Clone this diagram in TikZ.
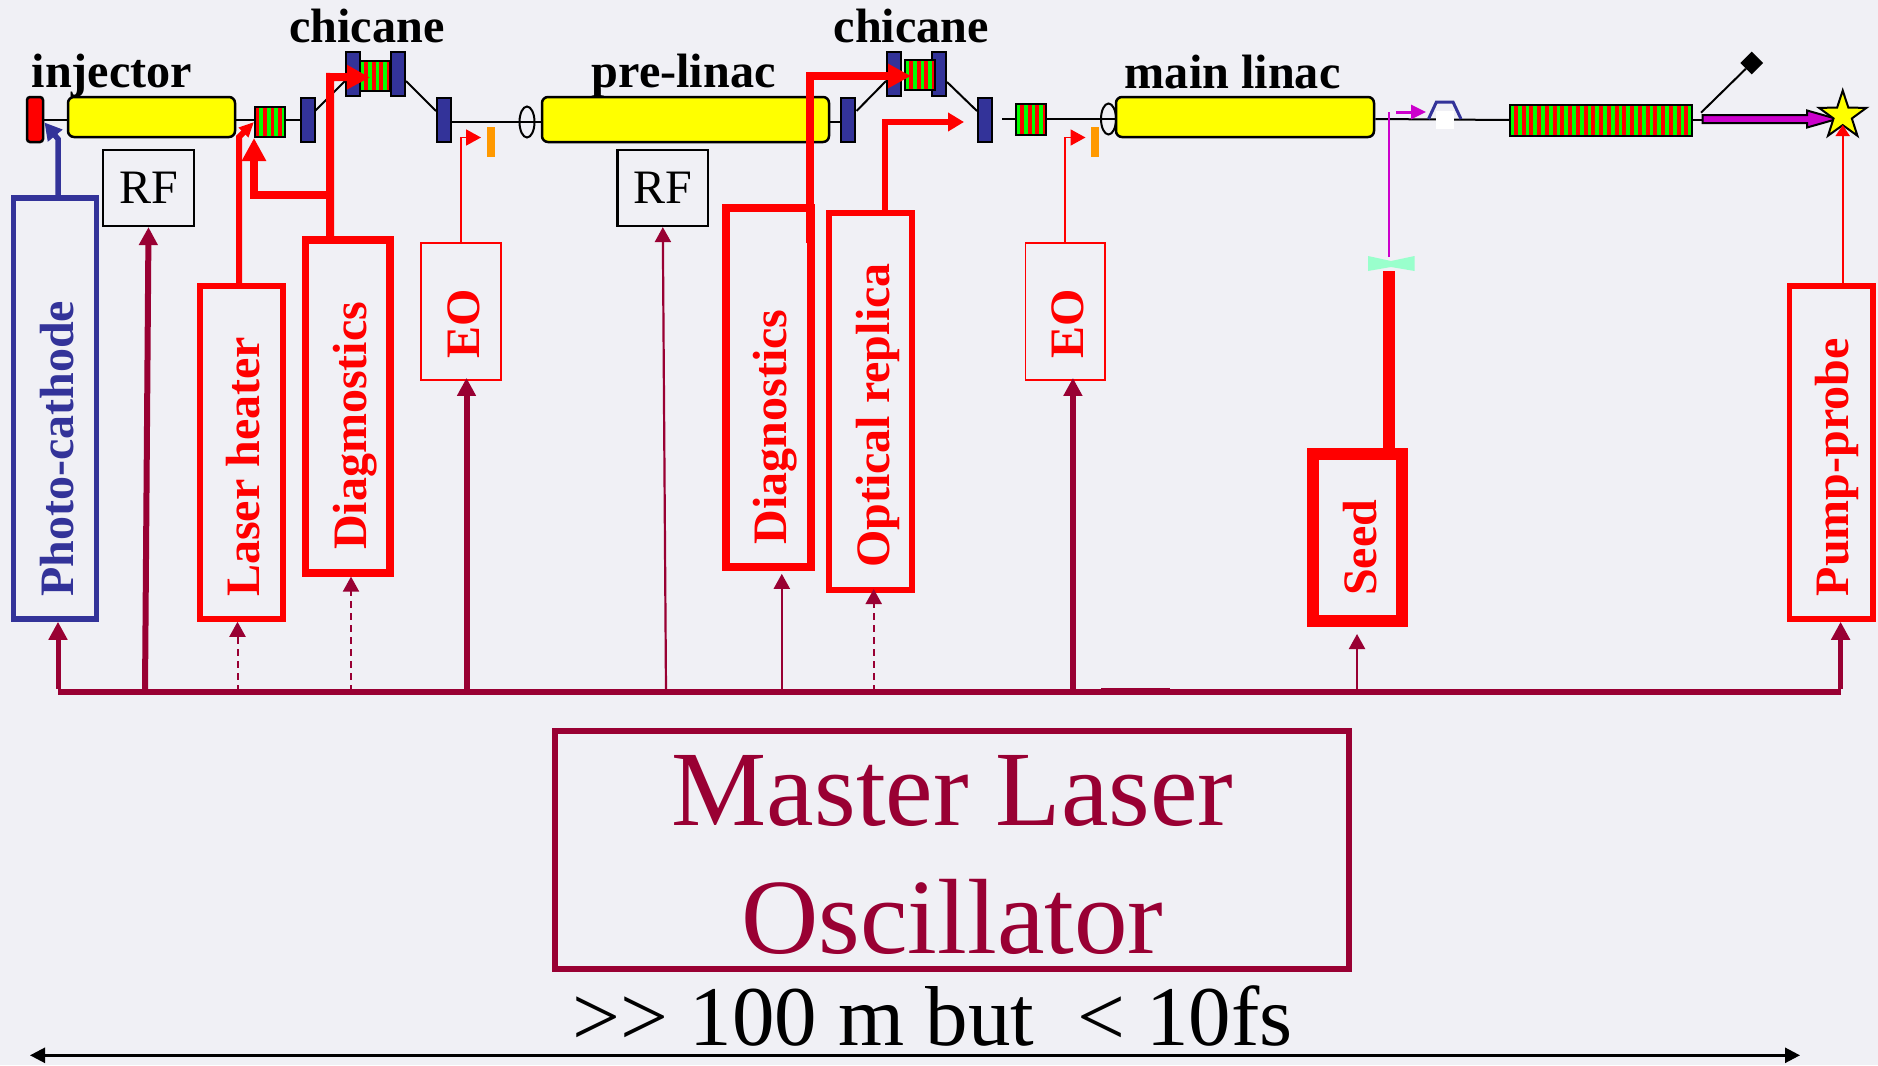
\documentclass[tikz,border=0pt]{standalone}
\usepackage{fontspec}
\setmainfont{Liberation Serif}
\usetikzlibrary{arrows.meta,shapes.geometric}

\definecolor{slidebg}{HTML}{F0F0F5}
\definecolor{navyblue}{HTML}{333399}
\definecolor{maroonline}{HTML}{990033}
\definecolor{mintblue}{HTML}{99FFCC}
\definecolor{purpleline}{HTML}{CC00CC}
\definecolor{orangebar}{HTML}{FF9900}
\definecolor{cavityyellow}{HTML}{FFFF00}
\definecolor{stripegreen}{HTML}{00FF00}

\tikzset{
	magnet/.style={draw=black, fill=navyblue, line width=2pt, minimum width=14pt, minimum height=44pt, inner sep=0pt},
	cavity/.style={draw=black, fill=cavityyellow, line width=2.5pt, rounded corners=6pt, inner sep=0pt},
	undulator/.style={draw=black, line width=2pt, fill=red, inner sep=0pt, path picture={
		\foreach \s in {0,7.75,...,184}
			\fill[stripegreen] ([xshift=\s pt+#1 pt]path picture bounding box.north west) rectangle ++(3.9pt,-40pt);
	}},
	beam/.style={draw=black, line width=2pt},
	ringmark/.style={ellipse, draw=black, line width=2pt, minimum width=15pt, minimum height=31pt, inner sep=0pt},
	orangemark/.style={fill=orangebar, minimum width=8pt, minimum height=30pt, inner sep=0pt},
	sysbox/.style={rectangle, inner sep=0pt},
	vlabel/.style={rotate=90, anchor=base west, inner sep=0pt, font=\fontsize{48}{50}\selectfont\bfseries},
	namelabel/.style={anchor=base west, inner sep=0pt, font=\fontsize{48.2}{50}\selectfont\bfseries},
	rflabel/.style={draw=black, line width=2.2pt, minimum width=90.5pt, minimum height=76pt, inner sep=0pt, font=\fontsize{48}{50}\selectfont},
	busline/.style={draw=maroonline, line width=6pt},
	syncthick/.style={draw=maroonline, line width=6pt, -{Triangle[length=18pt,width=18pt]}},
	syncthin/.style={draw=maroonline, line width=2.2pt, -{Triangle[length=15pt,width=16pt]}},
	syncdash/.style={draw=maroonline, line width=2pt, dash pattern=on 7pt off 5pt, -{Triangle[length=15pt,width=16pt]}},
	redheavy/.style={draw=red, line width=8pt, -{Triangle[length=23pt,width=23pt]}},
	redmedium/.style={draw=red, line width=6pt, -{Triangle[length=16pt,width=18pt]}},
	redfine/.style={draw=red, line width=1.8pt, -{Triangle[length=15pt,width=16pt]}}
}

\begin{document}
\begin{tikzpicture}[x=1pt, y=-1pt]
	\useasboundingbox (0,0) rectangle (1878,1065);
	\fill[slidebg] (0,0) rectangle (1878,1065);

	\node[cavity, fill=red, rounded corners=3pt, minimum width=16pt, minimum height=45pt] (cathode) at (35,119.5) {};
	\node[cavity, minimum width=167pt, minimum height=40pt] (injector) at (151.5,117) {};
	\node[undulator=3.9, minimum width=30pt, minimum height=30pt] (unda) at (270,122) {};
	\node[magnet] (maga) at (307.5,119.5) {};
	\node[magnet] (magb) at (352.5,74) {};
	\node[undulator=0, minimum width=30pt, minimum height=30pt] (undb) at (375,76) {};
	\node[magnet] (magc) at (398,74) {};
	\node[magnet] (magd) at (443.5,119.5) {};
	\node[ringmark] (ringa) at (527,122) {};
	\node[cavity, minimum width=287pt, minimum height=45pt] (prelinac) at (685.5,119.5) {};
	\node[magnet] (mage) at (848,119.5) {};
	\node[magnet] (magf) at (894,74) {};
	\node[magnet] (magg) at (939,74) {};
	\node[undulator=0, minimum width=30pt, minimum height=30pt] (undc) at (920,75) {};
	\node[magnet] (magh) at (984.6,119.5) {};
	\node[undulator=0, minimum width=30pt, minimum height=31pt] (undd) at (1031,119) {};
	\node[ringmark] (ringb) at (1108.5,119) {};
	\node[cavity, minimum width=258pt, minimum height=40pt] (mainlinac) at (1245,117) {};
	\node[undulator=0, minimum width=182pt, minimum height=31pt] (unde) at (1601,120) {};

	\node[namelabel] (injectorname) at (31.5,87.2) {injector};
	\node[namelabel] (chicanea) at (289,42.4) {chicane};
	\node[namelabel] (prelinacname) at (591.5,87.7) {pre-linac};
	\node[namelabel] (chicaneb) at (833.5,42.4) {chicane};
	\node[namelabel] (mainname) at (1124.6,88.4) {main linac};

	\coordinate (dogaa) at (315,111);
	\coordinate (dogab) at (345,81);
	\coordinate (dogac) at (406,81);
	\coordinate (dogad) at (436,111);
	\coordinate (dogba) at (856.5,111);
	\coordinate (dogbb) at (886,81);
	\coordinate (dogbc) at (947,82);
	\coordinate (dogbd) at (977,111);
	\coordinate (beamrestart) at (1002,119);
	\draw[beam] (cathode.east) -- (cathode.east -| injector.west);
	\draw[beam] (cathode.east -| injector.east) -- (cathode.east -| unda.west);
	\draw[beam] (cathode.east -| unda.east) -- (maga.west);
	\draw[beam] (dogaa) -- (dogab);
	\draw[beam] (dogac) -- (dogad);
	\draw[beam] (magd.east |- ringa) -- (prelinac.west |- ringa);
	\draw[beam] (prelinac.east |- ringa) -- (mage.west |- ringa);
	\draw[beam] (dogba) -- (dogbb);
	\draw[beam] (dogbc) -- (dogbd);
	\draw[beam] (beamrestart) -- (undd.west);
	\draw[beam] (undd.east) -- (mainlinac.west |- undd);
	\draw[beam] (mainlinac.east |- undd) -- (unde.west);

	\node[orangemark] (bara) at (491,142) {};
	\node[orangemark] (barb) at (1095,142) {};

	\draw[navyblue, line width=3pt] (1428.5,119) -- (1436.4,102) -- (1453,102) -- (1461,119);
	\node[fill=white, minimum width=18pt, minimum height=18pt, inner sep=0pt] (gap) at (1445,120) {};

	\coordinate (felstart) at (1702.5,120);
	\draw[beam] (unde.east) -- (felstart);
	\draw[draw=black, fill=purpleline, line width=2pt] (1702.5,115) -- (1807,115) -- (1807,110.5) -- (1837,119) -- (1807,127.5) -- (1807,123) -- (1702.5,123) -- cycle;
	\node[star, star points=5, star point ratio=2.6, draw=black, fill=cavityyellow, line width=2pt, minimum size=50pt, inner sep=0pt] (target) at (1842.7,115.5) {};
	\coordinate (dumpline) at (1701,112.7);
	\node[diamond, fill=black, minimum width=23pt, minimum height=23pt, inner sep=0pt] (dump) at (1751.7,63) {};
	\draw[beam] (dumpline) -- (dump);

	\node[sysbox, draw=navyblue, line width=5.5pt, minimum width=82.7pt, minimum height=421pt] (photo) at (55,408.5) {};
	\node[sysbox, draw=red, line width=5.5pt, minimum width=83pt, minimum height=333pt] (heater) at (241.5,452.5) {};
	\node[sysbox, draw=red, line width=7.7pt, minimum width=84.5pt, minimum height=332.7pt] (diaga) at (347.75,406.4) {};
	\node[sysbox, draw=red, line width=1.8pt, minimum width=79.5pt, minimum height=137pt] (eoa) at (460.85,311.5) {};
	\node[sysbox, draw=red, line width=7.7pt, minimum width=85pt, minimum height=359pt] (diagb) at (768.5,387.5) {};
	\node[sysbox, draw=red, line width=6pt, minimum width=83pt, minimum height=377pt] (replica) at (870.5,401.5) {};
	\node[sysbox, draw=red, line width=1.8pt, minimum width=79.5pt, minimum height=137pt] (eob) at (1065.3,311.5) {};
	\node[sysbox, draw=red, line width=12pt, minimum width=89pt, minimum height=167pt] (seed) at (1357.5,537.5) {};
	\node[sysbox, draw=red, line width=5.5pt, minimum width=83.5pt, minimum height=333pt] (pump) at (1831.3,452.5) {};

	\node[vlabel, text=navyblue] (phototext) at (73.3,597) {Photo-cathode};
	\node[vlabel, text=red] (heatertext) at (259.3,597) {Laser heater};
	\node[vlabel, text=red] (diagatext) at (366,550) {Diagmostics};
	\node[vlabel, text=red] (eoatext) at (479,359) {EO};
	\node[vlabel, text=red] (diagbtext) at (786,544.5) {Diagnostics};
	\node[vlabel, text=red] (replicatext) at (889.3,568) {Optical replica};
	\node[vlabel, text=red] (eobtext) at (1083.3,359) {EO};
	\node[vlabel, text=red] (seedtext) at (1376.5,596) {Seed};
	\node[vlabel, text=red] (pumptext) at (1848.3,596.5) {Pump-probe};

	\node[rflabel] (rfa) at (148.5,188) {RF};
	\node[rflabel] (rfb) at (662.8,188) {RF};

	\coordinate (photobend) at (58,139);
	\coordinate (phototip) at (44.5,122.5);
	\draw[navyblue, line width=5.5pt, -{Triangle[length=17pt,width=18pt]}] (photo.north -| photobend) -- (photobend) -- (phototip);

	\coordinate (heaterbend) at (239,137);
	\draw[redmedium, -{Triangle[length=15pt,width=13pt]}] (heater.north -| heaterbend) -- (heaterbend) -- (unda.west);
	\coordinate (diagabend) at (330,77);
	\coordinate (diagatip) at (370,77.5);
	\coordinate (diagabranch) at (330,195);
	\draw[redheavy] (diaga.north -| diagabend) -- (diagabend) -- (diagatip);
	\draw[redheavy] (diagabranch) -| (unda.south west);
	\coordinate (diagbstart) at (809.6,243);
	\coordinate (diagbbend) at (809.6,76);
	\coordinate (diagbtip) at (911,76);
	\draw[redheavy] (diagbstart) -- (diagbbend) -- (diagbtip);
	\coordinate (replicabend) at (885,122);
	\coordinate (replicatip) at (964,122);
	\draw[redmedium] (replica.north -| replicabend) -- (replicabend) -- (replicatip);
	\coordinate (eoatip) at (481,137.5);
	\coordinate (eobtip) at (1085.5,137.5);
	\draw[redfine] (eoa.north) |- (eoatip);
	\draw[redfine] (eob.north) |- (eobtip);

	\coordinate (seedout) at (1389,271);
	\draw[draw=red, line width=11.7pt] (seed.north -| seedout) -- (seedout);
	\fill[mintblue] (1368,256) -- (1391,261) -- (1414.6,256) -- (1414.6,271) -- (1391,267) -- (1368,271) -- cycle;
	\coordinate (seedbeama) at (1389,257);
	\coordinate (seedbeamb) at (1389,112);
	\coordinate (seedarrowa) at (1396,112);
	\coordinate (seedarrowb) at (1426,112);
	\draw[purpleline, line width=1.8pt] (seedbeama) -- (seedbeamb);
	\draw[purpleline, line width=3pt, -{Triangle[length=15pt,width=14pt]}] (seedarrowa) -- (seedarrowb);
	\coordinate (targettip) at (1842.7,125);
	\draw[draw=red, line width=1.8pt, -{Triangle[length=11pt,width=14pt]}] (pump.north -| target) -- (targettip);

	\foreach \tapname/\tapx in {tapphoto/58, taprfa/145, tapheater/237.5, tapdiaga/351, tapeoa/466.5, taprfb/666, tapdiagb/781.8, tapreplica/873.7, tapeob/1072.9, tapseed/1357, tappump/1840.6}
		\coordinate (\tapname) at (\tapx,691.7);
	\coordinate (overlapa) at (1101,691.4);
	\coordinate (overlapb) at (1170,691.4);
	\draw[busline] (tapphoto) -- (tappump);
	\draw[busline, line width=6.6pt] (overlapa) -- (overlapb);
	\draw[syncthick, line width=5pt] ([yshift=3pt]tapphoto) -- (tapphoto |- photo.south);
	\draw[syncthick] (taprfa) -- (rfa.south);
	\draw[syncdash] (tapheater) -- (tapheater |- heater.south);
	\draw[syncdash] (tapdiaga) -- (tapdiaga |- diaga.south);
	\draw[syncthick, shorten >=-3pt] (tapeoa) -- (tapeoa |- eoa.south);
	\draw[syncthin] (taprfb) -- (rfb.south);
	\draw[syncthin, shorten >=3pt] (tapdiagb) -- (tapdiagb |- diagb.south);
	\draw[syncdash, shorten >=-4pt] (tapreplica) -- (tapreplica |- replica.south);
	\draw[syncthick, shorten >=-3pt] (tapeob) -- (tapeob |- eob.south);
	\draw[syncthin, shorten >=7pt] (tapseed) -- (tapseed |- seed.south);
	\draw[syncthick, line width=5pt] ([yshift=3pt]tappump) -- (tappump |- pump.south);

	\node[sysbox, draw=maroonline, line width=6pt, minimum width=794.3pt, minimum height=237.6pt] (master) at (952,850) {};
	\node[anchor=base, inner sep=0pt, align=center, text=maroonline, font=\fontsize{107}{128}\selectfont] (mastertext) at (952.5,953) {Master Laser\\Oscillator};
	\node[anchor=base west, inner sep=0pt, font=\fontsize{85}{90}\selectfont] (spantext) at (572.5,1045) {>{}> 100 m but~~< 10fs};

	\coordinate (spanleft) at (30,1055.3);
	\coordinate (spanright) at (1800,1055.3);
	\draw[{Triangle[length=15pt,width=15pt]}-{Triangle[length=15pt,width=15pt]}, line width=2.5pt] (spanleft) -- (spanright);
\end{tikzpicture}
\end{document}
